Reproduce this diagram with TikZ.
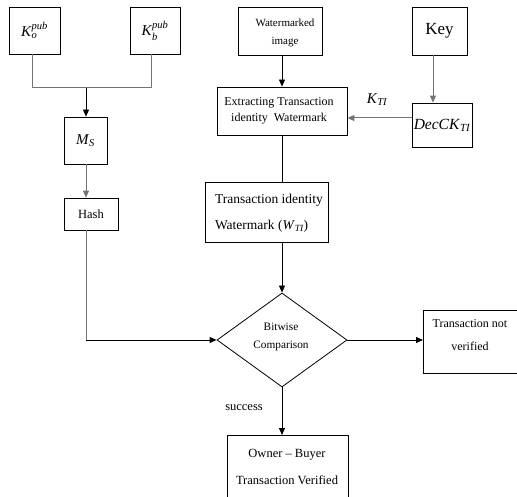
\documentclass[tikz,border=0pt]{standalone}
\usepackage{amsmath}
\usepackage{fontspec}
\setmainfont{Liberation Serif}
\usetikzlibrary{arrows.meta,shapes.geometric}
\newcommand{\itx}[1]{\textit{#1}}
\begin{document}
\begin{tikzpicture}[x=1pt,y=-1pt,
  box/.style={draw, line width=0.8pt, rectangle, inner sep=1pt, align=center},
  lbl/.style={align=center, inner sep=1pt},
  arr/.style={draw, line width=0.8pt, -{Triangle[length=7pt,width=6pt]}},
  garr/.style={draw=black!55, line width=1pt, -{Triangle[length=7pt,width=6pt]}, },
  gline/.style={draw=black!55, line width=1pt},
  bline/.style={draw, line width=0.8pt}]
\useasboundingbox (0,0) rectangle (517,497);
% nodes
\node[box, minimum width=51pt, minimum height=47pt, font=\fontsize{15}{17}\selectfont] (ko) at (34.5,30.5) {\itx{K}$^{\itx{pub}}_{\itx{o}}$};
\node[box, minimum width=50pt, minimum height=47pt, font=\fontsize{15}{17}\selectfont] (kb) at (155,30.5) {\itx{K}$^{\itx{pub}}_{\itx{b}}$};
\node[box, minimum width=43pt, minimum height=47pt, font=\fontsize{15}{17}\selectfont] (ms) at (85.5,140.5) {\itx{M}$_{\itx{S}}$};
\node[box, minimum width=54pt, minimum height=32pt, font=\fontsize{12.5}{14}\selectfont] (hash) at (91,214) {Hash};
\node[box, minimum width=84pt, minimum height=48pt] (wi) at (280,31) {};
\node[lbl, font=\fontsize{11}{18}\selectfont] (wit) at (285,33) {Watermarked\\image};
\node[box, minimum width=55pt, minimum height=48pt, font=\fontsize{17}{19}\selectfont] (key) at (439.5,31) {Key};
\node[box, minimum width=130pt, minimum height=48pt] (ext) at (282,111) {};
\node[lbl, font=\fontsize{12}{16}\selectfont] (extt) at (279,111) {Extracting Transaction\\identity\ \ Watermark};
\node[box, minimum width=60pt, minimum height=44pt, font=\fontsize{15.5}{17}\selectfont] (dec) at (442,125) {\itx{DecCK}$_{\itx{TI}}$};
\node[box, minimum width=123pt, minimum height=60pt] (tiw) at (266.5,212) {};
\node[lbl, align=left, font=\fontsize{13.5}{26}\selectfont] (tiwt) at (269,213) {Transaction identity\\Watermark (\itx{W}$_{\itx{TI}}$)};
\node[draw, line width=0.8pt, diamond, minimum width=130pt, minimum height=94pt, inner sep=0pt] (cmp) at (282,340) {};
\node[lbl, font=\fontsize{11.3}{18}\selectfont] (cmpt) at (281,337) {Bitwise\\Comparison};
\node[box, minimum width=100pt, minimum height=63pt, anchor=north west] (tnv) at (423,310) {};
\node[lbl, font=\fontsize{12}{23}\selectfont] (tnvt) at (470,335) {Transaction not\\verified};
\node[box, minimum width=121pt, minimum height=70pt, anchor=north west] (own) at (227,435) {};
\node[lbl, font=\fontsize{12.5}{27}\selectfont] (ownt) at (287,467) {Owner -- Buyer\\Transaction Verified};
\node[font=\fontsize{15}{17}\selectfont] (ktl) at (377,100) {\itx{K}$_{\itx{TI}}$};
\node[font=\fontsize{12.5}{14}\selectfont] (succ) at (244,408) {success};
% connectors
\coordinate (j) at (86,88);
\path[gline] (ko.south -| 32,0) |- (j);
\path[gline] (kb.south -| 151,0) |- (j);
\path[arr] (j) -- (j |- ms.north);
\path[garr] (ms.south -| j) -- (hash.north -| j);
\path[gline] (hash.south -| j) -- (86,340);
\path[arr] (86,340) -- (cmp.west);
\path[arr] (wi.south -| 282,0) -- (ext.north -| 282,0);
\path[garr] (key.south -| 433,0) -- (dec.north -| 433,0);
\path[garr] (dec.west |- 0,118) -- (ext.east |- 0,118);
\path[bline] (ext.south) -- (tiw.north -| ext.south);
\path[arr] (tiw.south -| cmp.north) -- (cmp.north);
\path[arr] (cmp.east) -- (tnv.west |- cmp.east);
\path[arr] (cmp.south) -- (own.north -| cmp.south);
\end{tikzpicture}
\end{document}
